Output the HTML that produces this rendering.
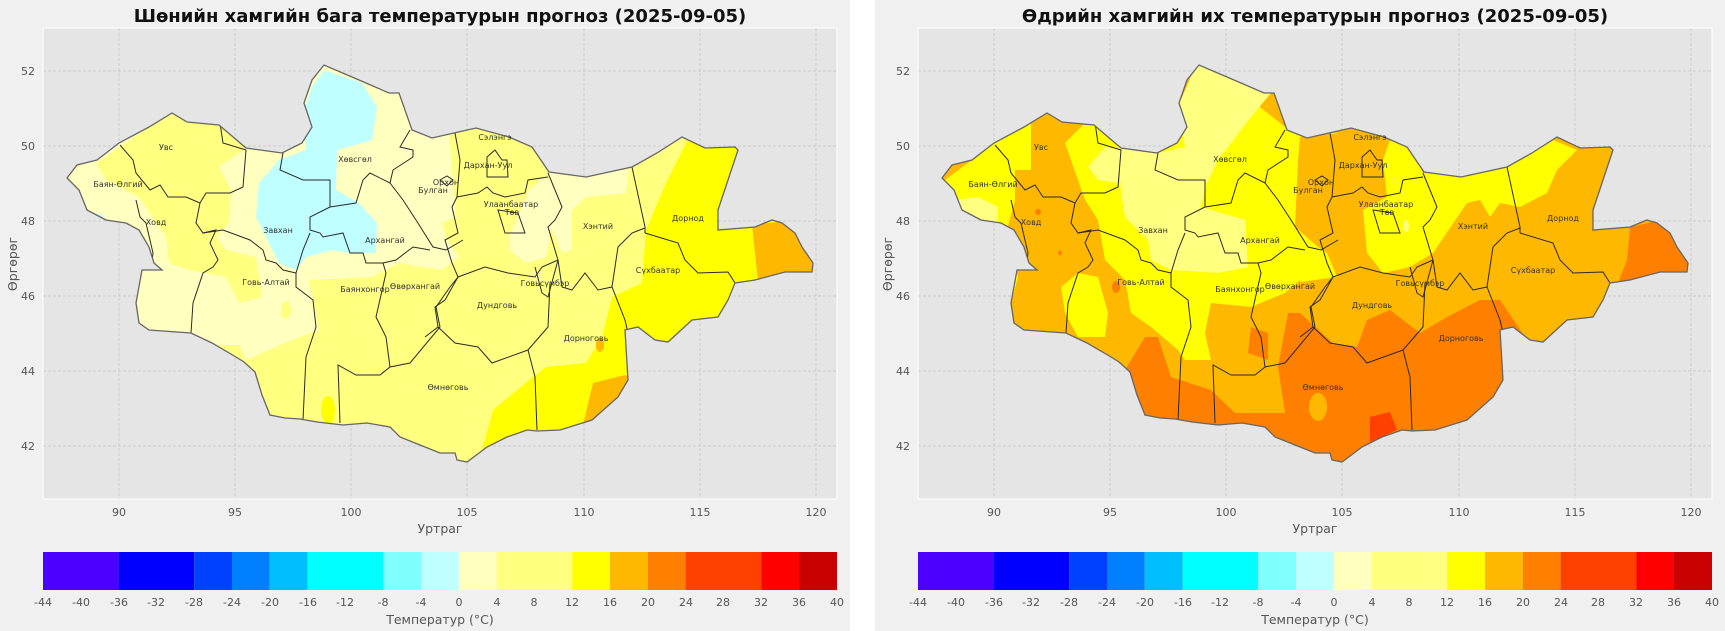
<!DOCTYPE html>
<html><head><meta charset="utf-8"><style>
html,body{margin:0;padding:0;background:#fff}
svg{display:block}
text{font-family:"DejaVu Sans","Liberation Sans",sans-serif}
.tk{font-size:11px;fill:#555}
.lb{font-size:12.5px;fill:#555}
.pl{font-size:8px;fill:#333;text-anchor:middle}
.ttl{font-size:18px;font-weight:bold;fill:#111;text-anchor:middle}
</style></head><body>
<svg width="1725" height="631" viewBox="0 0 1725 631" xmlns="http://www.w3.org/2000/svg">
<defs>
<polygon id="mn" points="67,178 77,165 97,160 119,143 149,127 172,113 187,122 219,125 246,148 282,153 302,143 312,127 304,103 312,80 324,65 366,83 389,93 399,93 412,130 432,138 454,133 476,128 509,137 532,147 549,172 586,177 632,167 657,153 682,137 705,148 735,147 738,150 718,210 718,230 755,227 772,220 782,223 795,233 802,247 813,263 812,272 785,272 755,280 735,283 728,300 718,317 692,320 668,342 655,340 638,327 625,330 628,380 618,397 592,420 560,430 537,431 527,430 507,437 487,447 467,462 457,460 455,453 440,453 420,445 400,437 390,427 367,423 343,425 317,422 300,419 285,418 270,415 262,395 255,372 244,362 236,357 212,343 191,333 149,330 139,323 136,303 142,270 162,270 154,263 149,247 139,230 126,223 106,220 87,210 79,190"/>
<clipPath id="clipL"><use href="#mn"/></clipPath>
<clipPath id="clipR"><use href="#mn" transform="translate(875,0)"/></clipPath>
<g id="prov" fill="none" stroke="#2a2a2a" stroke-width="1">
<polyline points="120,145 133,160 136,173 150,190 160,185 168,197 186,197 200,203"/>
<polyline points="136,200 140,217 146,223 153,253 151,270 163,270"/>
<polyline points="200,203 196,223 203,233 216,230 210,243 218,260 213,267 203,273 193,303 191,333"/>
<polyline points="220,123 223,143 246,150 243,187 230,193 206,193 200,203"/>
<polyline points="203,233 223,230 250,240 263,250 266,260 276,263 283,270 296,273"/>
<polyline points="283,153 280,170 303,180 330,180 330,207"/>
<polyline points="330,207 310,217 310,230 320,233 323,237 343,233 350,253 363,253 366,263 383,263"/>
<polyline points="296,273 303,250 310,233"/>
<polyline points="296,273 296,287 313,300 316,327 306,357 303,420"/>
<polyline points="383,263 386,273 376,317 386,337 390,367"/>
<polyline points="340,423 338,365 356,375 380,375 390,367 410,363 440,327 436,307 450,287 458,277"/>
<polyline points="330,207 356,203 363,180 370,173 390,183 393,170 413,157 413,150 400,147 410,130"/>
<polyline points="390,183 403,200 416,220 433,247 446,250 463,240"/>
<polyline points="383,263 396,260 413,247 430,250"/>
<polyline points="455,133 460,160 457,197"/>
<polyline points="457,197 478,193 487,187 493,193 505,197 525,193 528,180 548,177"/>
<polyline points="548,173 562,207 555,220 548,227 558,260"/>
<polyline points="457,197 452,207 458,233 445,240 452,263 458,277"/>
<polyline points="632,167 645,227 645,233"/>
<polyline points="645,228 632,233 618,247 612,287"/>
<polyline points="645,233 678,243 685,260 698,273 728,272 735,283"/>
<polyline points="458,277 485,267 508,273 535,277 542,267 558,260"/>
<polyline points="558,260 562,287 572,290 585,273 598,290 612,287 625,320 628,333"/>
<polyline points="550,283 548,327 528,350"/>
<polyline points="458,277 445,300 435,307 438,327 425,337"/>
<polyline points="438,327 455,343 478,347 492,363 528,350"/>
<polyline points="528,350 535,377 537,430"/>
<polygon points="498,210 518,213 525,233 505,233"/>
<polygon points="487,157 495,150 502,160 507,160 508,177 487,177"/>
<polyline points="535,267 542,293 548,297 558,260"/>
<polygon points="440,180 447,176 453,180 447,186"/>
</g>
</defs>

<rect x="0" y="0" width="850" height="631" fill="#f0f0f0"/>
<rect x="875" y="0" width="850" height="631" fill="#f0f0f0"/>

<!-- ===== LEFT PANEL ===== -->
<g>
<rect x="43" y="28" width="794" height="471" fill="#e5e5e5"/>
<g stroke="#c4c4c4" stroke-width="0.8" stroke-dasharray="3,2">
<line x1="119" y1="28" x2="119" y2="499"/><line x1="235" y1="28" x2="235" y2="499"/><line x1="351" y1="28" x2="351" y2="499"/><line x1="467" y1="28" x2="467" y2="499"/><line x1="584" y1="28" x2="584" y2="499"/><line x1="700" y1="28" x2="700" y2="499"/><line x1="816" y1="28" x2="816" y2="499"/>
<line x1="43" y1="71" x2="837" y2="71"/><line x1="43" y1="146" x2="837" y2="146"/><line x1="43" y1="221" x2="837" y2="221"/><line x1="43" y1="296" x2="837" y2="296"/><line x1="43" y1="371" x2="837" y2="371"/><line x1="43" y1="446" x2="837" y2="446"/>
</g>
<g clip-path="url(#clipL)">
<rect x="40" y="40" width="800" height="460" fill="#ffffc0"/>
<polygon fill="#ffff80" points="239,345 246,360 292,340 319,330 309,280 372,277 399,263 442,270 459,257 446,237 442,223 456,217 449,130 449,40 850,40 850,500 200,500 200,345"/>
<polygon fill="#ffff80" points="96,163 149,127 172,113 219,125 246,148 219,167 231,190 229,223 216,237 226,250 256,257 262,297 239,303 226,277 189,270 169,263 166,237 139,197 106,180"/>
<ellipse cx="286" cy="310" rx="5" ry="9" fill="#ffff80"/>
<polygon fill="#ffffc0" points="509,237 529,190 546,177 556,190 552,223 546,257 526,263 509,250"/>
<polygon fill="#ffffc0" points="549,172 629,170 626,193 586,197 572,210 572,250 562,253 549,223"/>
<polygon fill="#bfffff" points="324,70 362,83 377,107 372,140 337,150 336,190 359,203 377,223 376,253 349,253 332,250 306,257 296,270 279,263 269,243 256,217 259,183 279,160 306,150 302,117 312,87"/>
<ellipse cx="98" cy="217" rx="5" ry="3" fill="#bfffff"/>
<polygon fill="#ffff00" points="689,137 760,110 840,200 840,350 640,470 470,470 482,450 493,410 533,377 546,367 586,363 602,337 612,297 642,283 646,230 666,183"/>
<polygon fill="#ffb800" points="752,225 760,300 840,300 840,215"/>
<polygon fill="#ffb800" points="593,383 625,375 635,380 620,410 583,425"/>
<ellipse cx="600" cy="345" rx="4" ry="7" fill="#ffb800"/>
<ellipse cx="328" cy="410" rx="7" ry="14" fill="#ffff00"/>
<use href="#prov"/>
</g>
<use href="#mn" fill="none" stroke="#666" stroke-width="1.3"/>
<text class="pl" x="166" y="150">Увс</text>
<text class="pl" x="118" y="187">Баян-Өлгий</text>
<text class="pl" x="156" y="225">Ховд</text>
<text class="pl" x="278" y="233">Завхан</text>
<text class="pl" x="355" y="162">Хөвсгөл</text>
<text class="pl" x="385" y="243">Архангай</text>
<text class="pl" x="266" y="285">Говь-Алтай</text>
<text class="pl" x="365" y="292">Баянхонгор</text>
<text class="pl" x="415" y="289">Өвөрхангай</text>
<text class="pl" x="433" y="193">Булган</text>
<text class="pl" x="446" y="185">Орхон</text>
<text class="pl" x="448" y="390">Өмнөговь</text>
<text class="pl" x="495" y="140">Сэлэнгэ</text>
<text class="pl" x="488" y="168">Дархан-Уул</text>
<text class="pl" x="511" y="207">Улаанбаатар</text>
<text class="pl" x="512" y="215">Төв</text>
<text class="pl" x="598" y="229">Хэнтий</text>
<text class="pl" x="688" y="221">Дорнод</text>
<text class="pl" x="658" y="273">Сүхбаатар</text>
<text class="pl" x="545" y="286">Говьсүмбэр</text>
<text class="pl" x="497" y="308">Дундговь</text>
<text class="pl" x="586" y="341">Дорноговь</text>
<rect x="43" y="28" width="794" height="471" fill="none" stroke="#fff" stroke-width="1"/>
<text class="ttl" x="440" y="22">Шөнийн хамгийн бага температурын прогноз (2025-09-05)</text>
<g class="tk" text-anchor="end">
<text x="35" y="75">52</text><text x="35" y="150">50</text><text x="35" y="225">48</text><text x="35" y="300">46</text><text x="35" y="375">44</text><text x="35" y="450">42</text>
</g>
<g class="tk" text-anchor="middle">
<text x="119" y="516">90</text><text x="235" y="516">95</text><text x="351" y="516">100</text><text x="467" y="516">105</text><text x="584" y="516">110</text><text x="700" y="516">115</text><text x="816" y="516">120</text>
</g>
<text class="lb" x="440" y="533" text-anchor="middle">Уртраг</text>
<text class="lb" x="17" y="264" text-anchor="middle" transform="rotate(-90 17 264)">Өргөрөг</text>
</g>

<!-- ===== RIGHT PANEL ===== -->
<g transform="translate(875,0)">
<rect x="43" y="28" width="794" height="471" fill="#e5e5e5"/>
<g stroke="#c4c4c4" stroke-width="0.8" stroke-dasharray="3,2">
<line x1="119" y1="28" x2="119" y2="499"/><line x1="235" y1="28" x2="235" y2="499"/><line x1="351" y1="28" x2="351" y2="499"/><line x1="467" y1="28" x2="467" y2="499"/><line x1="584" y1="28" x2="584" y2="499"/><line x1="700" y1="28" x2="700" y2="499"/><line x1="816" y1="28" x2="816" y2="499"/>
<line x1="43" y1="71" x2="837" y2="71"/><line x1="43" y1="146" x2="837" y2="146"/><line x1="43" y1="221" x2="837" y2="221"/><line x1="43" y1="296" x2="837" y2="296"/><line x1="43" y1="371" x2="837" y2="371"/><line x1="43" y1="446" x2="837" y2="446"/>
</g>
</g>
<g clip-path="url(#clipR)">
<g transform="translate(875,0)">
<rect x="40" y="40" width="800" height="460" fill="#ffb800"/>
<polygon fill="#ffff00" points="70,180 120,143 156,123 156,170 140,170 140,200 131,233 143,277 136,303 126,260 110,227 83,213"/>
<polygon fill="#ffff00" points="190,143 210,123 220,123 243,143 276,143 310,93 326,60 410,127 463,133 425,137 423,160 420,227 443,247 463,260 452,253 462,277 425,280 410,293 376,307 336,303 330,333 336,360 310,360 303,350 276,327 256,313 250,280 230,260 223,220 210,200 196,160"/>
<polygon fill="#ffff00" points="425,247 452,253 462,277 425,282"/>
<polygon fill="#ffff00" points="186,287 203,273 223,277 233,313 230,337 203,337 190,313"/>
<polygon fill="#ffff00" points="548,173 632,167 678,140 702,150 682,170 672,193 645,207 625,203 615,217 605,200 592,203 558,253 535,267 508,273 492,253 488,210 512,197 508,160 515,140 535,147"/>
<polygon fill="#ffff80" points="303,107 323,60 396,93 376,117 343,160 330,187 326,210 310,193 276,170 283,153 310,147 306,127"/>
<polygon fill="#ffff80" points="243,147 283,147 283,173 326,180 326,207 370,220 373,267 343,273 296,270 276,260 273,240 250,217 246,193"/>
<polygon fill="#ffff80" points="213,167 230,147 246,150 243,183 223,180"/>
<polygon fill="#ffff80" points="80,200 103,197 123,207 123,227 103,223 83,210"/>
<ellipse cx="531" cy="226" rx="3" ry="6" fill="#ffff80"/>
<polygon fill="#ff8000" points="250,370 270,337 283,337 296,377 336,390 360,413 410,413 403,367 413,313 436,313 425,313 458,343 482,347 492,320 515,310 545,333 572,317 605,300 625,300 652,340 680,400 658,493 256,493 240,440"/>
<polygon fill="#ff8000" points="376,327 393,333 393,360 373,353"/>
<polygon fill="#ff8000" points="755,227 752,260 743,283 830,283 830,210"/>
<ellipse cx="163" cy="212" rx="3" ry="3" fill="#ff8000"/>
<ellipse cx="185" cy="253" rx="2" ry="2.5" fill="#ff8000"/>
<ellipse cx="241" cy="287" rx="4" ry="6" fill="#ff8000"/>
<ellipse cx="443" cy="407" rx="9" ry="14" fill="#ffb800"/>
<polygon fill="#ff4000" points="495,417 515,412 522,430 495,442"/>
<use href="#prov"/>
</g>
</g>
<g transform="translate(875,0)">
<use href="#mn" fill="none" stroke="#666" stroke-width="1.3"/>
<text class="pl" x="166" y="150">Увс</text>
<text class="pl" x="118" y="187">Баян-Өлгий</text>
<text class="pl" x="156" y="225">Ховд</text>
<text class="pl" x="278" y="233">Завхан</text>
<text class="pl" x="355" y="162">Хөвсгөл</text>
<text class="pl" x="385" y="243">Архангай</text>
<text class="pl" x="266" y="285">Говь-Алтай</text>
<text class="pl" x="365" y="292">Баянхонгор</text>
<text class="pl" x="415" y="289">Өвөрхангай</text>
<text class="pl" x="433" y="193">Булган</text>
<text class="pl" x="446" y="185">Орхон</text>
<text class="pl" x="448" y="390">Өмнөговь</text>
<text class="pl" x="495" y="140">Сэлэнгэ</text>
<text class="pl" x="488" y="168">Дархан-Уул</text>
<text class="pl" x="511" y="207">Улаанбаатар</text>
<text class="pl" x="512" y="215">Төв</text>
<text class="pl" x="598" y="229">Хэнтий</text>
<text class="pl" x="688" y="221">Дорнод</text>
<text class="pl" x="658" y="273">Сүхбаатар</text>
<text class="pl" x="545" y="286">Говьсүмбэр</text>
<text class="pl" x="497" y="308">Дундговь</text>
<text class="pl" x="586" y="341">Дорноговь</text>
<rect x="43" y="28" width="794" height="471" fill="none" stroke="#fff" stroke-width="1"/>
<text class="ttl" x="440" y="22">Өдрийн хамгийн их температурын прогноз (2025-09-05)</text>
<g class="tk" text-anchor="end">
<text x="35" y="75">52</text><text x="35" y="150">50</text><text x="35" y="225">48</text><text x="35" y="300">46</text><text x="35" y="375">44</text><text x="35" y="450">42</text>
</g>
<g class="tk" text-anchor="middle">
<text x="119" y="516">90</text><text x="235" y="516">95</text><text x="351" y="516">100</text><text x="467" y="516">105</text><text x="584" y="516">110</text><text x="700" y="516">115</text><text x="816" y="516">120</text>
</g>
<text class="lb" x="440" y="533" text-anchor="middle">Уртраг</text>
<text class="lb" x="17" y="264" text-anchor="middle" transform="rotate(-90 17 264)">Өргөрөг</text>
</g>

<!-- colorbars -->
<g id="cb">
<rect x="43.0" y="552" width="75.6" height="38" fill="#4c00ff"/>
<rect x="118.6" y="552" width="75.6" height="38" fill="#0000ff"/>
<rect x="194.2" y="552" width="37.8" height="38" fill="#0040ff"/>
<rect x="232.0" y="552" width="37.8" height="38" fill="#0080ff"/>
<rect x="269.8" y="552" width="37.8" height="38" fill="#00bfff"/>
<rect x="307.6" y="552" width="75.6" height="38" fill="#00ffff"/>
<rect x="383.2" y="552" width="37.8" height="38" fill="#80ffff"/>
<rect x="421.0" y="552" width="37.8" height="38" fill="#bfffff"/>
<rect x="458.8" y="552" width="37.8" height="38" fill="#ffffc0"/>
<rect x="496.6" y="552" width="75.6" height="38" fill="#ffff80"/>
<rect x="572.2" y="552" width="37.8" height="38" fill="#ffff00"/>
<rect x="610.0" y="552" width="37.8" height="38" fill="#ffb800"/>
<rect x="647.8" y="552" width="37.8" height="38" fill="#ff8000"/>
<rect x="685.6" y="552" width="75.6" height="38" fill="#ff4000"/>
<rect x="761.2" y="552" width="37.8" height="38" fill="#ff0000"/>
<rect x="799.0" y="552" width="38.0" height="38" fill="#c80000"/>
</g>
<use href="#cb" transform="translate(875,0)"/>
<g class="tk" text-anchor="middle">
<text x="43" y="606">-44</text><text x="81" y="606">-40</text><text x="119" y="606">-36</text><text x="156" y="606">-32</text><text x="194" y="606">-28</text><text x="232" y="606">-24</text><text x="270" y="606">-20</text><text x="308" y="606">-16</text><text x="345" y="606">-12</text><text x="383" y="606">-8</text><text x="421" y="606">-4</text><text x="459" y="606">0</text><text x="497" y="606">4</text><text x="534" y="606">8</text><text x="572" y="606">12</text><text x="610" y="606">16</text><text x="648" y="606">20</text><text x="686" y="606">24</text><text x="723" y="606">28</text><text x="761" y="606">32</text><text x="799" y="606">36</text><text x="837" y="606">40</text>
</g>
<g class="tk" text-anchor="middle" transform="translate(875,0)">
<text x="43" y="606">-44</text><text x="81" y="606">-40</text><text x="119" y="606">-36</text><text x="156" y="606">-32</text><text x="194" y="606">-28</text><text x="232" y="606">-24</text><text x="270" y="606">-20</text><text x="308" y="606">-16</text><text x="345" y="606">-12</text><text x="383" y="606">-8</text><text x="421" y="606">-4</text><text x="459" y="606">0</text><text x="497" y="606">4</text><text x="534" y="606">8</text><text x="572" y="606">12</text><text x="610" y="606">16</text><text x="648" y="606">20</text><text x="686" y="606">24</text><text x="723" y="606">28</text><text x="761" y="606">32</text><text x="799" y="606">36</text><text x="837" y="606">40</text>
</g>
<text class="lb" x="440" y="624" text-anchor="middle">Температур (°C)</text>
<text class="lb" x="1315" y="624" text-anchor="middle">Температур (°C)</text>
</svg>
</body></html>
